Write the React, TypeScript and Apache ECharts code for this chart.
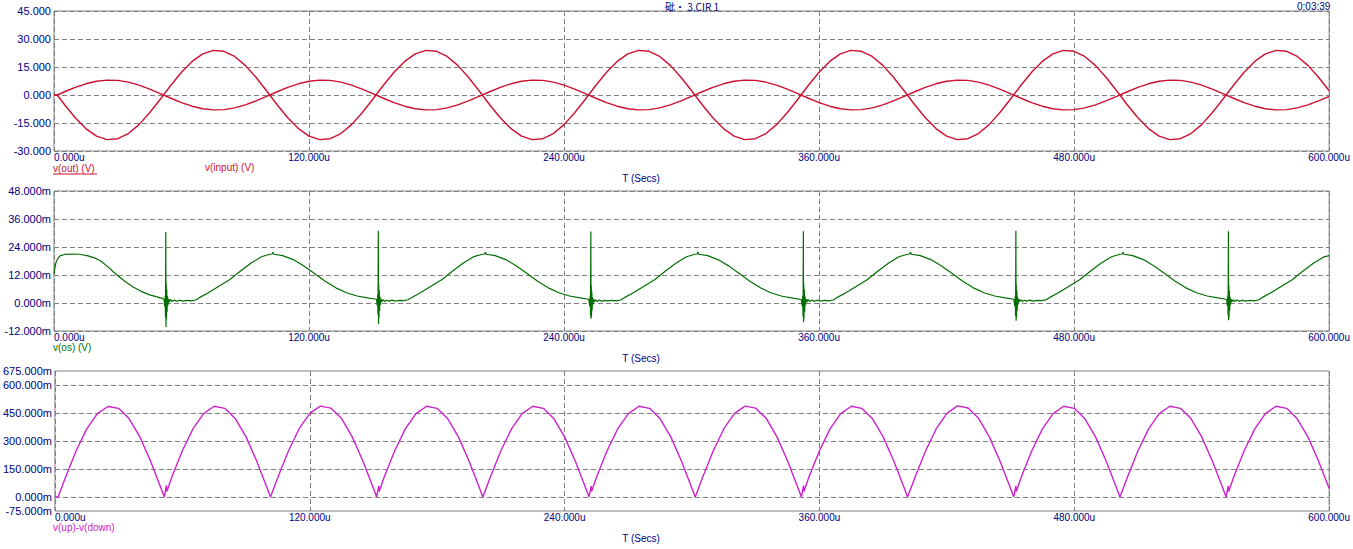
import { useEffect, useRef } from "react";
import * as echarts from "echarts";

// ---- Panel 1: v(out), v(input) (V) ----
const sineT = [
  0, 1.5, 5, 10, 15, 20, 25, 30, 35, 40, 45, 50, 55, 60, 65, 70, 75, 80, 85, 90, 95, 100,
  105, 110, 115, 120, 125, 130, 135, 140, 145, 150, 155, 160, 165, 170, 175, 180, 185, 190, 195, 200,
  205, 210, 215, 220, 225, 230, 235, 240, 245, 250, 255, 260, 265, 270, 275, 280, 285, 290, 295, 300,
  305, 310, 315, 320, 325, 330, 335, 340, 345, 350, 355, 360, 365, 370, 375, 380, 385, 390, 395, 400,
  405, 410, 415, 420, 425, 430, 435, 440, 445, 450, 455, 460, 465, 470, 475, 480, 485, 490, 495, 500,
  505, 510, 515, 520, 525, 530, 535, 540, 545, 550, 555, 560, 565, 570, 575, 580, 585, 590, 595, 600,
];
const vInput = [
  0, 0, 1.74, 4.07, 6.0, 7.34, 7.96, 7.81, 6.89, 5.29, 3.18, 0.75, -1.74, -4.07, -6.0, -7.34, -7.96, -7.81, -6.89, -5.29, -3.18, -0.75,
  1.74, 4.07, 6.0, 7.34, 7.96, 7.81, 6.89, 5.29, 3.18, 0.75, -1.74, -4.07, -6.0, -7.34, -7.96, -7.81, -6.89, -5.29, -3.18, -0.75,
  1.74, 4.07, 6.0, 7.34, 7.96, 7.81, 6.89, 5.29, 3.18, 0.75, -1.74, -4.07, -6.0, -7.34, -7.96, -7.81, -6.89, -5.29, -3.18, -0.75,
  1.74, 4.07, 6.0, 7.34, 7.96, 7.81, 6.89, 5.29, 3.18, 0.75, -1.74, -4.07, -6.0, -7.34, -7.96, -7.81, -6.89, -5.29, -3.18, -0.75,
  1.74, 4.07, 6.0, 7.34, 7.96, 7.81, 6.89, 5.29, 3.18, 0.75, -1.74, -4.07, -6.0, -7.34, -7.96, -7.81, -6.89, -5.29, -3.18, -0.75,
  1.74, 4.07, 6.0, 7.34, 7.96, 7.81, 6.89, 5.29, 3.18, 0.75, -1.74, -4.07, -6.0, -7.34, -7.96, -7.81, -6.89, -5.29, -3.18, -0.75,
];
const vOut = [
  0, 0, -5.23, -12.22, -18.0, -22.03, -23.9, -23.42, -20.66, -15.86, -9.53, -2.26, 5.23, 12.22, 18.0, 22.03, 23.9, 23.42, 20.66, 15.86, 9.53, 2.26,
  -5.23, -12.22, -18.0, -22.03, -23.9, -23.42, -20.66, -15.86, -9.53, -2.26, 5.23, 12.22, 18.0, 22.03, 23.9, 23.42, 20.66, 15.86, 9.53, 2.26,
  -5.23, -12.22, -18.0, -22.03, -23.9, -23.42, -20.66, -15.86, -9.53, -2.26, 5.23, 12.22, 18.0, 22.03, 23.9, 23.42, 20.66, 15.86, 9.53, 2.26,
  -5.23, -12.22, -18.0, -22.03, -23.9, -23.42, -20.66, -15.86, -9.53, -2.26, 5.23, 12.22, 18.0, 22.03, 23.9, 23.42, 20.66, 15.86, 9.53, 2.26,
  -5.23, -12.22, -18.0, -22.03, -23.9, -23.42, -20.66, -15.86, -9.53, -2.26, 5.23, 12.22, 18.0, 22.03, 23.9, 23.42, 20.66, 15.86, 9.53, 2.26,
  -5.23, -12.22, -18.0, -22.03, -23.9, -23.42, -20.66, -15.86, -9.53, -2.26, 5.23, 12.22, 18.0, 22.03, 23.9, 23.42, 20.66, 15.86, 9.53, 2.26,
];

// ---- Panel 2: v(os) (mV) as [time us, value mV] ----
const vOsPoints: [number, number][] = [
  [0, 12.5], [0.5, 15.5], [1, 17.6], [2, 19.4], [3, 20.3], [5, 20.8], [8, 21.0], [12, 20.9], [16, 20.2], [20, 19.0], [22, 18.0], [25, 15.8], [28, 13.3], [30, 11.8], [33, 9.5], [37, 7.0], [41, 5.0], [45, 3.5], [48, 2.7], [51, 2.0],
  [51.8, 1.4], [52.1, -1.5], [52.3, 3.0], [52.45, -6.0], [52.6, 30.4], [52.7, -10.3], [52.8, 8.5], [52.9, -7.0], [53.05, 6.0], [53.2, -4.0], [53.4, 3.0], [53.6, -1.0], [53.9, 1.8], [54.3, 0.4], [54.8, 1.5], [55.6, 0.6], [56.6, 1.3], [57.6, 0.7], [59.1, 1.2], [60.6, 0.8], [62.6, 1.1], [64.6, 0.9], [66.6, 1.3],
  [68.6, 2.4], [72.6, 4.4], [77.6, 7.2], [82.6, 10.0], [87.6, 13.6], [92.6, 17.0], [97.6, 19.8], [101.6, 20.9], [102.6, 21.0], [103.0, 21.7], [103.4, 20.9],
  [107.6, 20.3], [112.6, 18.6], [117.6, 15.9], [122.6, 12.6], [127.6, 9.3], [132.6, 6.5], [137.6, 4.4], [142.6, 3.0], [147.6, 2.2], [151.6, 1.6],
  [151.8, 1.3], [152.1, -1.2], [152.3, 3.5], [152.45, -5.0], [152.6, 31.0], [152.7, -9.0], [152.8, 8.0], [152.9, -6.5], [153.05, 5.5], [153.2, -3.5], [153.4, 2.8], [153.6, -0.8], [153.9, 1.7], [154.3, 0.5], [154.8, 1.4], [155.6, 0.7], [156.6, 1.2], [157.6, 0.8], [159.1, 1.2], [160.6, 0.8], [162.6, 1.1], [164.6, 1.0], [166.6, 1.4],
  [168.6, 2.5], [172.6, 4.5], [177.6, 7.3], [182.6, 10.1], [187.6, 13.7], [192.6, 17.1], [197.6, 19.9], [201.6, 20.9], [202.6, 21.0], [203.0, 21.8], [203.4, 20.9],
  [207.6, 20.3], [212.6, 18.6], [217.6, 15.9], [222.6, 12.6], [227.6, 9.3], [232.6, 6.5], [237.6, 4.4], [242.6, 3.0], [247.6, 2.2], [251.6, 1.6],
  [251.8, 1.4], [252.1, -1.4], [252.3, 3.2], [252.45, -5.5], [252.6, 30.6], [252.7, -6.8], [252.8, 7.5], [252.9, -6.0], [253.05, 5.0], [253.2, -3.2], [253.4, 2.6], [253.6, -0.6], [253.9, 1.6], [254.3, 0.5], [254.8, 1.4], [255.6, 0.6], [256.6, 1.3], [257.6, 0.7], [259.1, 1.1], [260.6, 0.9], [262.6, 1.1], [264.6, 0.9], [266.6, 1.3],
  [268.6, 2.4], [272.6, 4.4], [277.6, 7.2], [282.6, 10.0], [287.6, 13.6], [292.6, 17.0], [297.6, 19.8], [301.6, 20.9], [302.6, 21.0], [303.0, 21.9], [303.4, 20.9],
  [307.6, 20.3], [312.6, 18.5], [317.6, 15.8], [322.6, 12.5], [327.6, 9.2], [332.6, 6.4], [337.6, 4.3], [342.6, 2.9], [347.6, 2.1], [351.6, 1.5],
  [351.8, 1.3], [352.1, -1.3], [352.3, 3.0], [352.45, -5.8], [352.6, 30.8], [352.7, -8.2], [352.8, 8.2], [352.9, -6.8], [353.05, 5.8], [353.2, -3.8], [353.4, 2.9], [353.6, -0.9], [353.9, 1.7], [354.3, 0.4], [354.8, 1.5], [355.6, 0.6], [356.6, 1.3], [357.6, 0.7], [359.1, 1.2], [360.6, 0.8], [362.6, 1.1], [364.6, 0.9], [366.6, 1.3],
  [368.6, 2.4], [372.6, 4.4], [377.6, 7.2], [382.6, 10.0], [387.6, 13.6], [392.6, 17.0], [397.6, 19.8], [401.6, 20.9], [402.6, 21.0], [403.0, 21.8], [403.4, 20.9],
  [407.6, 20.3], [412.6, 18.6], [417.6, 15.9], [422.6, 12.6], [427.6, 9.3], [432.6, 6.5], [437.6, 4.4], [442.6, 3.0], [447.6, 2.2], [451.6, 1.6],
  [451.8, 1.4], [452.1, -1.3], [452.3, 3.1], [452.45, -5.6], [452.6, 31.0], [452.7, -7.6], [452.8, 7.8], [452.9, -6.4], [453.05, 5.4], [453.2, -3.4], [453.4, 2.7], [453.6, -0.7], [453.9, 1.7], [454.3, 0.5], [454.8, 1.4], [455.6, 0.7], [456.6, 1.2], [457.6, 0.8], [459.1, 1.2], [460.6, 0.8], [462.6, 1.1], [464.6, 1.0], [466.6, 1.3],
  [468.6, 2.4], [472.6, 4.4], [477.6, 7.2], [482.6, 10.0], [487.6, 13.6], [492.6, 17.0], [497.6, 19.8], [501.6, 20.9], [502.6, 21.0], [503.0, 21.8], [503.4, 20.9],
  [507.6, 20.3], [512.6, 18.6], [517.6, 15.9], [522.6, 12.6], [527.6, 9.3], [532.6, 6.5], [537.6, 4.4], [542.6, 3.0], [547.6, 2.2], [551.6, 1.6],
  [551.8, 1.3], [552.1, -1.2], [552.3, 3.2], [552.45, -5.4], [552.6, 30.8], [552.7, -7.4], [552.8, 7.6], [552.9, -6.2], [553.05, 5.2], [553.2, -3.3], [553.4, 2.6], [553.6, -0.7], [553.9, 1.6], [554.3, 0.5], [554.8, 1.4], [555.6, 0.6], [556.6, 1.3], [557.6, 0.7], [559.1, 1.2], [560.6, 0.8], [562.6, 1.1], [564.6, 0.9], [566.6, 1.3],
  [568.6, 2.4], [572.6, 4.4], [577.6, 7.2], [582.6, 10.0], [587.6, 13.6], [592.6, 17.0], [597.6, 19.8], [600, 20.3],
];

// ---- Panel 3: v(up)-v(down) (mV) as [time us, value mV] ----
const vDiffPoints: [number, number][] = [
  [0, 0], [1.5, 0], [5, 106], [10, 248], [15, 365], [20, 447], [25, 485], [30, 475], [35, 419], [40, 322], [45, 193], [50, 46], [51.5, 0], [52.5, 62], [52.7, 30],
  [55, 106], [60, 248], [65, 365], [70, 447], [75, 486], [80, 475], [85, 419], [90, 322], [95, 193], [100, 46], [101.5, 0],
  [105, 106], [110, 248], [115, 366], [120, 448], [125, 487], [130, 476], [135, 420], [140, 322], [145, 193], [150, 46], [151.5, 0], [152.5, 60], [152.7, 30],
  [155, 106], [160, 248], [165, 365], [170, 447], [175, 486], [180, 475], [185, 419], [190, 322], [195, 193], [200, 46], [201.5, 0],
  [205, 106], [210, 248], [215, 365], [220, 447], [225, 486], [230, 475], [235, 419], [240, 322], [245, 193], [250, 46], [251.5, 0], [252.5, 58], [252.7, 30],
  [255, 106], [260, 248], [265, 365], [270, 447], [275, 486], [280, 475], [285, 419], [290, 322], [295, 193], [300, 46], [301.5, 0],
  [305, 106], [310, 248], [315, 366], [320, 448], [325, 487], [330, 476], [335, 420], [340, 322], [345, 193], [350, 46], [351.5, 0], [352.5, 61], [352.7, 30],
  [355, 106], [360, 248], [365, 365], [370, 447], [375, 486], [380, 475], [385, 419], [390, 322], [395, 193], [400, 46], [401.5, 0],
  [405, 106], [410, 248], [415, 366], [420, 448], [425, 488], [430, 477], [435, 420], [440, 322], [445, 193], [450, 46], [451.5, 0], [452.5, 60], [452.7, 30],
  [455, 106], [460, 248], [465, 365], [470, 447], [475, 486], [480, 475], [485, 419], [490, 322], [495, 193], [500, 46], [501.5, 0],
  [505, 106], [510, 248], [515, 365], [520, 447], [525, 486], [530, 475], [535, 419], [540, 322], [545, 193], [550, 46], [551.5, 0], [552.5, 59], [552.7, 30],
  [555, 106], [560, 248], [565, 365], [570, 447], [575, 486], [580, 475], [585, 419], [590, 322], [595, 193], [600, 46],
];

const panel3HiddenLabels = [75, 225, 375, 525];

const NAVY = "#000080";
const RED = "#cc1030";
const GREEN = "#006e00";
const MAGENTA = "#cc22cc";
const GRID_GRAY = "#808080";
const FONT = '"Liberation Sans", Arial, sans-serif';

export default function App() {
  const ref = useRef<HTMLDivElement>(null);

  useEffect(() => {
    if (!ref.current) return;
    const chart = echarts.init(ref.current, null, { renderer: "svg" });

    const grids = [11, 191, 371].map((top) => ({
      left: 54,
      top,
      width: 1277,
      height: 140,
      show: true,
      borderColor: GRID_GRAY,
      borderWidth: 1,
      backgroundColor: "#ffffff",
      containLabel: false,
    }));

    const xAxes = [0, 1, 2].map((i) => ({
      type: "value",
      gridIndex: i,
      min: 0,
      max: 600,
      interval: 120,
      axisLine: { show: false },
      axisTick: { show: false },
      splitLine: {
        show: true,
        lineStyle: { color: GRID_GRAY, type: [5, 3], width: 1 },
      },
      axisLabel: {
        color: NAVY,
        fontSize: 10,
        fontFamily: FONT,
        margin: 1,
        showMinLabel: true,
        showMaxLabel: true,
        alignMinLabel: "left",
        formatter: (v: number) => v.toFixed(3) + "u",
      },
    }));

    const yLabelBase = {
      color: NAVY,
      fontSize: 11,
      fontFamily: FONT,
      margin: 3,
      showMinLabel: true,
      showMaxLabel: true,
    };
    const ySplit = {
      show: true,
      lineStyle: { color: GRID_GRAY, type: [5, 3], width: 1 },
    };

    const yAxes = [
      {
        type: "value",
        gridIndex: 0,
        min: -30,
        max: 45,
        interval: 15,
        axisLine: { show: false },
        axisTick: { show: false },
        splitLine: ySplit,
        axisLabel: { ...yLabelBase, formatter: (v: number) => v.toFixed(3) },
      },
      {
        type: "value",
        gridIndex: 1,
        min: -12,
        max: 48,
        interval: 12,
        axisLine: { show: false },
        axisTick: { show: false },
        splitLine: ySplit,
        axisLabel: { ...yLabelBase, formatter: (v: number) => v.toFixed(3) + "m" },
      },
      {
        type: "value",
        gridIndex: 2,
        min: -75,
        max: 675,
        interval: 75,
        axisLine: { show: false },
        axisTick: { show: false },
        splitLine: {
          show: true,
          lineStyle: { color: ["rgba(0,0,0,0)", GRID_GRAY], type: [5, 3], width: 1 },
        },
        axisLabel: {
          ...yLabelBase,
          formatter: (v: number) =>
            panel3HiddenLabels.some((h) => Math.abs(h - v) < 1e-6) ? "" : v.toFixed(3) + "m",
        },
      },
    ];

    const lineSeries = (name: string, xi: number, data: number[][], color: string, width: number) => ({
      name,
      type: "line",
      xAxisIndex: xi,
      yAxisIndex: xi,
      data,
      showSymbol: false,
      symbol: "none",
      smooth: false,
      lineStyle: { color, width },
      itemStyle: { color },
      silent: true,
    });

    const textEl = (text: string, x: number, y: number, fill: string, align = "left", font = `11px ${FONT}`) => ({
      type: "text",
      x,
      y,
      silent: true,
      style: {
        text,
        fill,
        font,
        align,
        verticalAlign: "middle",
        textAlign: align,
        textVerticalAlign: "middle",
      },
    });

    const option = {
      animation: false,
      backgroundColor: "#ffffff",
      grid: grids,
      xAxis: xAxes,
      yAxis: yAxes,
      series: [
        lineSeries("v(out)", 0, sineT.map((t, i) => [t, vOut[i]]), RED, 1.4),
        lineSeries("v(input)", 0, sineT.map((t, i) => [t, vInput[i]]), RED, 1.4),
        lineSeries("v(os)", 1, vOsPoints, GREEN, 1.2),
        lineSeries("v(up)-v(down)", 2, vDiffPoints, MAGENTA, 1.4),
      ],
      graphic: [
        textEl("砒・ 3.CIR 1", 665, 6, NAVY, "left", `10px "Noto Sans CJK JP", ${FONT}`),
        textEl("0:03:39", 1297, 6, NAVY, "left", `10px ${FONT}`),
        textEl("v(out) (V)", 53, 168, RED, "left", `10px ${FONT}`),
        {
          type: "line",
          silent: true,
          shape: { x1: 53, y1: 174, x2: 97, y2: 174 },
          style: { stroke: RED, lineWidth: 1 },
        },
        textEl("v(input) (V)", 205, 167, RED, "left", `10px ${FONT}`),
        textEl("T (Secs)", 641, 178, NAVY, "center", `10px ${FONT}`),
        textEl("v(os) (V)", 53, 347, GREEN, "left", `10px ${FONT}`),
        textEl("T (Secs)", 641, 358, NAVY, "center", `10px ${FONT}`),
        textEl("v(up)-v(down)", 53, 527, MAGENTA, "left", `10px ${FONT}`),
        textEl("T (Secs)", 641, 538, NAVY, "center", `10px ${FONT}`),
      ],
    };

    chart.setOption(option as any);
    return () => chart.dispose();
  }, []);

  return (
    <div
      ref={ref}
      style={{ position: "absolute", left: 0, top: 0, width: 1353, height: 549, background: "#ffffff" }}
    />
  );
}
